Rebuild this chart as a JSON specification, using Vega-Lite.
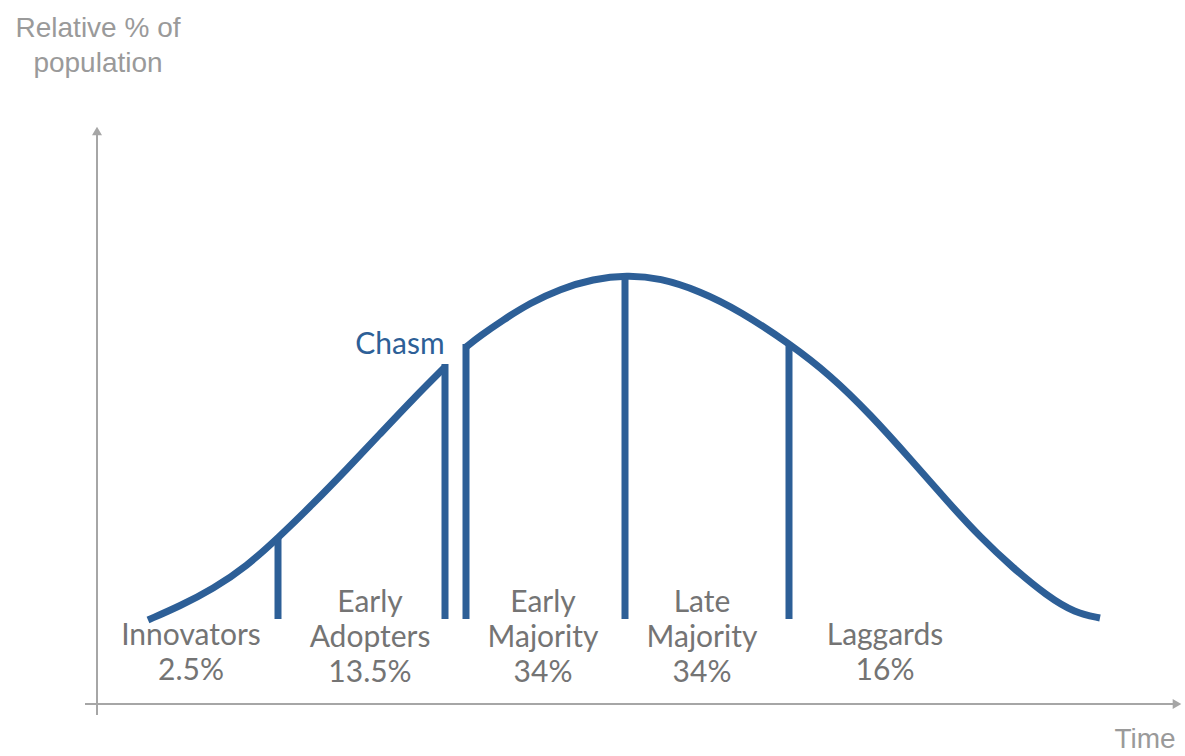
{
  "$schema": "https://vega.github.io/schema/vega-lite/v6.json",
  "width": 1185,
  "height": 756,
  "autosize": {"type": "none"},
  "padding": 0,
  "background": "white",
  "config": {"view": {"stroke": null}},
  "encoding": {
    "x": {"field": "x", "type": "quantitative", "scale": {"domain": [0, 1185], "nice": false, "zero": false}, "axis": null},
    "y": {"field": "y", "type": "quantitative", "scale": {"domain": [0, 756], "nice": false, "zero": false}, "axis": null}
  },
  "layer": [
    {
      "data": {"values": [
        {"axis": "y", "x": 97, "x2": 97, "y": 41, "y2": 623},
        {"axis": "x", "x": 85, "x2": 1178, "y": 52, "y2": 52}
      ]},
      "mark": {"type": "rule", "color": "#a6a6a6", "strokeWidth": 2},
      "encoding": {"x2": {"field": "x2"}, "y2": {"field": "y2"}}
    },
    {
      "data": {"values": [{"x": 97, "y": 625}]},
      "mark": {"type": "point", "shape": "triangle-up", "filled": true, "size": 100, "color": "#a6a6a6", "opacity": 1}
    },
    {
      "data": {"values": [{"x": 1177, "y": 52}]},
      "mark": {"type": "point", "shape": "triangle-right", "filled": true, "size": 100, "color": "#a6a6a6", "opacity": 1}
    },
    {
      "data": {"values": [
        {"segment": "before chasm", "x": 148, "y": 136},
        {"segment": "before chasm", "x": 180, "y": 150},
        {"segment": "before chasm", "x": 213, "y": 167},
        {"segment": "before chasm", "x": 247, "y": 190},
        {"segment": "before chasm", "x": 278, "y": 218},
        {"segment": "before chasm", "x": 313, "y": 252},
        {"segment": "before chasm", "x": 347, "y": 287},
        {"segment": "before chasm", "x": 380, "y": 322},
        {"segment": "before chasm", "x": 413, "y": 357},
        {"segment": "before chasm", "x": 445, "y": 389},
        {"segment": "after chasm", "x": 466, "y": 409},
        {"segment": "after chasm", "x": 480, "y": 420},
        {"segment": "after chasm", "x": 503, "y": 436},
        {"segment": "after chasm", "x": 530, "y": 453},
        {"segment": "after chasm", "x": 560, "y": 467},
        {"segment": "after chasm", "x": 593, "y": 477},
        {"segment": "after chasm", "x": 627, "y": 481},
        {"segment": "after chasm", "x": 660, "y": 478},
        {"segment": "after chasm", "x": 700, "y": 465},
        {"segment": "after chasm", "x": 740, "y": 445},
        {"segment": "after chasm", "x": 790, "y": 412},
        {"segment": "after chasm", "x": 830, "y": 381},
        {"segment": "after chasm", "x": 870, "y": 342},
        {"segment": "after chasm", "x": 913, "y": 294},
        {"segment": "after chasm", "x": 947, "y": 255},
        {"segment": "after chasm", "x": 980, "y": 219},
        {"segment": "after chasm", "x": 1013, "y": 188},
        {"segment": "after chasm", "x": 1047, "y": 160},
        {"segment": "after chasm", "x": 1075, "y": 143},
        {"segment": "after chasm", "x": 1100, "y": 138}
      ]},
      "mark": {"type": "line", "color": "#2d5f97", "strokeWidth": 7, "interpolate": "basis", "strokeCap": "butt"},
      "encoding": {"detail": {"field": "segment"}}
    },
    {
      "data": {"values": [
        {"boundary": "Innovators | Early Adopters", "x": 278, "y": 137, "y2": 218},
        {"boundary": "Early Adopters | Chasm", "x": 445, "y": 137, "y2": 392},
        {"boundary": "Chasm | Early Majority", "x": 466, "y": 137, "y2": 412},
        {"boundary": "Early Majority | Late Majority", "x": 625, "y": 137, "y2": 480},
        {"boundary": "Late Majority | Laggards", "x": 789, "y": 137, "y2": 411}
      ]},
      "mark": {"type": "rule", "color": "#2d5f97", "strokeWidth": 7, "strokeCap": "butt"},
      "encoding": {"y2": {"field": "y2"}}
    },
    {
      "data": {"values": [
        {"label": "Innovators\n2.5%", "x": 191, "y": 111},
        {"label": "Early\nAdopters\n13.5%", "x": 370, "y": 144},
        {"label": "Early\nMajority\n34%", "x": 543, "y": 144},
        {"label": "Late\nMajority\n34%", "x": 702, "y": 144},
        {"label": "Laggards\n16%", "x": 885, "y": 111}
      ]},
      "mark": {"type": "text", "font": "Lato", "fontSize": 30, "fontWeight": "normal", "color": "#747474", "align": "center", "baseline": "alphabetic", "lineBreak": "\n", "lineHeight": 35},
      "encoding": {"text": {"field": "label"}}
    },
    {
      "data": {"values": [{"label": "Chasm", "x": 400, "y": 402}]},
      "mark": {"type": "text", "font": "Lato", "fontSize": 30, "fontWeight": "normal", "color": "#2d5f97", "align": "center", "baseline": "alphabetic"},
      "encoding": {"text": {"field": "label"}}
    },
    {
      "data": {"values": [
        {"label": "Relative % of\npopulation", "x": 98, "y": 719},
        {"label": "Time", "x": 1145, "y": 8}
      ]},
      "mark": {"type": "text", "font": "Liberation Sans", "fontSize": 28, "color": "#9a9a9a", "align": "center", "baseline": "alphabetic", "lineBreak": "\n", "lineHeight": 35},
      "encoding": {"text": {"field": "label"}}
    }
  ]
}
